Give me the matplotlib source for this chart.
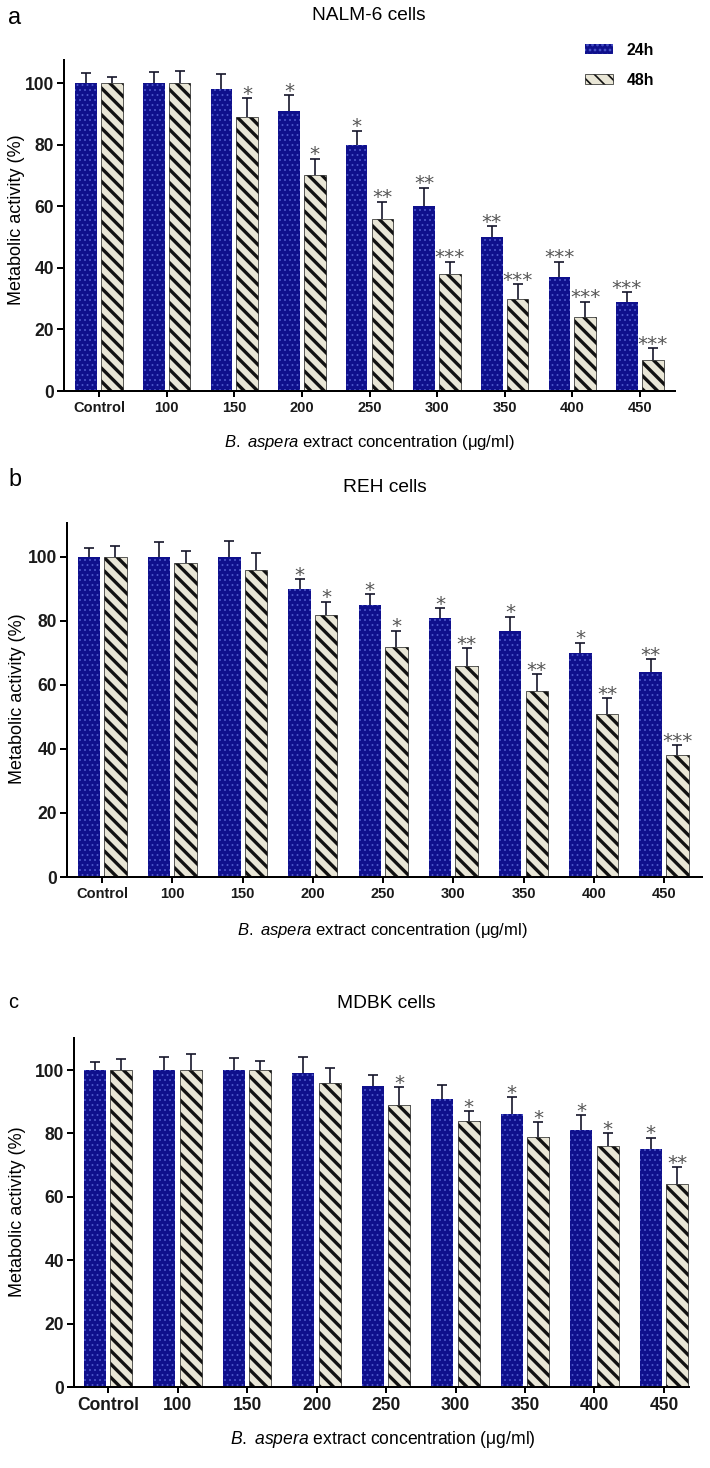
## Bar charts of metabolic activity for three cell lines (24h / 48h)
import matplotlib
matplotlib.use('Agg')
import matplotlib.pyplot as plt
import numpy as np

plt.rcParams['font.family'] = ['Liberation Sans', 'DejaVu Sans']
plt.rcParams['mathtext.fontset'] = 'custom'
plt.rcParams['mathtext.rm'] = 'Liberation Sans'
plt.rcParams['mathtext.it'] = 'Liberation Sans:italic'

## DATA
groups = ['Control', '100', '150', '200', '250', '300', '350', '400', '450']

nalm_24 = [100, 100, 98, 91, 80, 60, 50, 37, 29]
nalm_24_sd = [3.2, 3.5, 5, 5, 4.5, 6, 3.6, 5, 3]
nalm_48 = [100, 100, 89, 70, 56, 38, 30, 24, 10]
nalm_48_sd = [2, 4, 6, 5.5, 5.5, 4, 4.7, 5, 4]
nalm_24_sig = ['', '', '', '*', '*', '**', '**', '***', '***']
nalm_48_sig = ['', '', '*', '*', '**', '***', '***', '***', '***']

reh_24 = [100, 100, 100, 90, 85, 81, 77, 70, 64]
reh_24_sd = [2.8, 4.7, 4.9, 3, 3.4, 3, 4.3, 3.2, 4]
reh_48 = [100, 98, 96, 82, 72, 66, 58, 51, 38]
reh_48_sd = [3.4, 3.9, 5.3, 4, 5, 5.4, 5.3, 4.9, 3.2]
reh_24_sig = ['', '', '', '*', '*', '*', '*', '*', '**']
reh_48_sig = ['', '', '', '*', '*', '**', '**', '**', '***']

mdbk_24 = [100, 100, 100, 99, 95, 91, 86, 81, 75]
mdbk_24_sd = [2.6, 4, 3.7, 5, 3.5, 4.2, 5.5, 4.7, 3.7]
mdbk_48 = [100, 100, 100, 96, 89, 84, 79, 76, 64]
mdbk_48_sd = [3.6, 5, 3, 4.5, 5.5, 3.1, 4.6, 4, 5.3]
mdbk_24_sig = ['', '', '', '', '', '', '*', '*', '*']
mdbk_48_sig = ['', '', '', '', '*', '*', '*', '*', '**']

BLUE = '#0f108c'
DOTS = '#4a55c8'
BEIGE = '#e9e6d6'
W, H = 710, 1468
DPI = 120

fig = plt.figure(figsize=(W / DPI, H / DPI), dpi=DPI)


def px_text(x, y, s, **kw):
    # place figure text using pixel coordinates (from top-left)
    fig.text(x / W, 1 - y / H, s, **kw)


def set_hatch_lw(patches, lw):
    for p in patches:
        if hasattr(p, 'set_hatch_linewidth'):
            p.set_hatch_linewidth(lw)


def draw_panel(box, v24, e24, s24, v48, e48, s48, xlim, ytop, xtick_size):
    l, t, r, b = box
    ax = fig.add_axes([l / W, 1 - b / H, (r - l) / W, (b - t) / H])
    x = np.arange(len(groups))
    w = 0.32
    off = 0.19

    with plt.rc_context({'hatch.linewidth': 0.6}):
        b24 = ax.bar(x - off, v24, w, color=BLUE, edgecolor=DOTS,
                     linewidth=0, hatch='....', zorder=2)
    set_hatch_lw(b24, 0.6)
    with plt.rc_context({'hatch.linewidth': 2.0}):
        b48 = ax.bar(x + off, v48, w, color=BEIGE, edgecolor='#111111',
                     linewidth=0.4, hatch='\\\\\\', zorder=2)
    set_hatch_lw(b48, 2.0)

    # one-sided error bars + significance stars
    for xs, v, e, s in ((x - off, v24, e24, s24), (x + off, v48, e48, s48)):
        v = np.array(v, dtype=float)
        e = np.array(e, dtype=float)
        eb = ax.errorbar(xs, v, yerr=[np.zeros(len(v)), e], fmt='none',
                         ecolor='#15152a', elinewidth=1.0, capsize=2.8,
                         capthick=1.0, zorder=1)
        for cap in eb[1]:
            if np.allclose(cap.get_ydata(), v):
                cap.set_visible(False)
        for xi, top, si in zip(xs, v + e, s):
            if si:
                ax.annotate(si, (xi, top), xytext=(0, -1.0),
                            textcoords='offset points', ha='center',
                            va='baseline', fontsize=12, color='#555555',
                            family='DejaVu Sans')

    ax.set_xlim(*xlim)
    ax.set_ylim(0, ytop)
    ax.set_yticks([0, 20, 40, 60, 80, 100])
    ax.set_xticks(x)
    ax.set_xticklabels(groups)
    ax.spines['top'].set_visible(False)
    ax.spines['right'].set_visible(False)
    ax.spines['left'].set_linewidth(1.2)
    ax.spines['bottom'].set_linewidth(1.2)
    ax.tick_params(axis='y', length=4.2, width=1.2, pad=1.8, labelsize=10.5)
    ax.tick_params(axis='x', length=3.6, width=1.2, pad=2.5,
                   labelsize=xtick_size)
    for lab in ax.get_xticklabels() + ax.get_yticklabels():
        lab.set_fontweight('bold')
        lab.set_color('#1a1a1a')
    return ax, b24, b48


xlab = r'$\mathit{B.\ aspera}$ extract concentration (μg/ml)'
ylab = 'Metabolic activity (%)'

## a - NALM-6
ax_a, h24, h48 = draw_panel((64, 60, 675, 391), nalm_24, nalm_24_sd, nalm_24_sig,
                            nalm_48, nalm_48_sd, nalm_48_sig,
                            (-0.52, 8.52), 107.5, 8.8)
ax_a.legend([h24, h48], ['24h', '48h'], loc='upper left',
            bbox_to_anchor=(585 / W, 1 - 43 / H), bbox_transform=fig.transFigure,
            frameon=False, handlelength=1.75, handleheight=0.6,
            labelspacing=0.95, handletextpad=0.9, borderaxespad=0,
            borderpad=0, prop=dict(weight='bold', size=9.5))
px_text(15, 17, 'a', fontsize=14, ha='center', va='center')
px_text(369, 15, 'NALM-6 cells', fontsize=11.5, ha='center', va='center')
px_text(17, 220, ylab, fontsize=10.8, rotation=90, ha='center', va='center')
px_text(369, 442, xlab, fontsize=10, ha='center', va='center')

## b - REH
draw_panel((67, 523, 702, 877), reh_24, reh_24_sd, reh_24_sig,
           reh_48, reh_48_sd, reh_48_sig, (-0.5, 8.54), 110.6, 8.8)
px_text(15, 480, 'b', fontsize=14, ha='center', va='center')
px_text(385, 487, 'REH cells', fontsize=11.5, ha='center', va='center')
px_text(18, 699, ylab, fontsize=10.8, rotation=90, ha='center', va='center')
px_text(382, 931, xlab, fontsize=10, ha='center', va='center')

## c - MDBK
draw_panel((74, 1038, 689, 1387), mdbk_24, mdbk_24_sd, mdbk_24_sig,
           mdbk_48, mdbk_48_sd, mdbk_48_sig, (-0.49, 8.36), 110.1, 10.5)
px_text(13, 1003, 'c', fontsize=12, ha='center', va='center')
px_text(386, 1003, 'MDBK cells', fontsize=11.5, ha='center', va='center')
px_text(18, 1212, ylab, fontsize=10.8, rotation=90, ha='center', va='center')
px_text(383, 1440, xlab, fontsize=10.5, ha='center', va='center')

plt.savefig('out.png', dpi=DPI)
